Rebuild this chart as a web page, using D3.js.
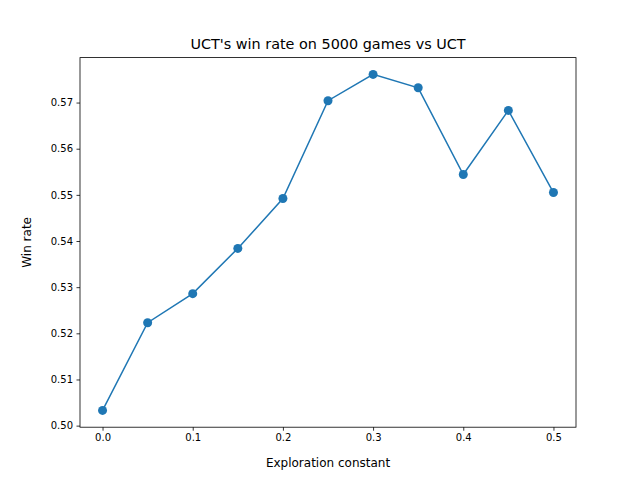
<!DOCTYPE html>
<html><head><meta charset="utf-8">
<script src="https://cdn.jsdelivr.net/npm/d3@7"></script>
<style>body{margin:0;background:#fff}text{font-family:"DejaVu Sans",sans-serif}</style>
</head><body><svg width="640" height="480"></svg>
<script>
var constants = [0.0, 0.05, 0.1, 0.15, 0.2, 0.25, 0.3, 0.35, 0.4, 0.45, 0.5];
var winRates = [0.5033, 0.5223, 0.5286, 0.5384, 0.5492, 0.5704, 0.5761, 0.5732, 0.5544, 0.5683, 0.5505];
var xTicks = [0.0, 0.1, 0.2, 0.3, 0.4, 0.5];
var yTicks = [0.50, 0.51, 0.52, 0.53, 0.54, 0.55, 0.56, 0.57];

var svg = d3.select('svg');
var plotLeft = 80, plotRight = 576, plotTop = 57.6, plotBottom = 427.2;
var color = '#1f77b4';

var ymin = d3.min(winRates), ymax = d3.max(winRates), pad = (ymax - ymin) * 0.05;
var xScale = d3.scaleLinear().domain([-0.025, 0.525]).range([plotLeft, plotRight]);
var yScale = d3.scaleLinear().domain([ymin - pad, ymax + pad]).range([plotBottom, plotTop]);

svg.append('g').attr('transform', 'translate(0,' + plotBottom + ')')
    .call(d3.axisBottom(xScale).tickValues(xTicks).tickFormat(d3.format('.1f')).tickSize(3.5).tickPadding(3.5))
    .call(g => g.select('.domain').remove());
svg.append('g').attr('transform', 'translate(' + plotLeft + ',0)')
    .call(d3.axisLeft(yScale).tickValues(yTicks).tickFormat(d3.format('.2f')).tickSize(3.5).tickPadding(3.5))
    .call(g => g.select('.domain').remove());
svg.selectAll('.tick text').attr('font-size', 10).attr('fill', '#000');
svg.selectAll('.tick line').attr('stroke', '#000').attr('stroke-width', 0.8);

var line = d3.line().x((d, i) => xScale(constants[i])).y(d => yScale(d));
svg.append('path').datum(winRates).attr('d', line)
    .attr('fill', 'none').attr('stroke', color).attr('stroke-width', 1.5);
svg.selectAll('circle').data(winRates).enter().append('circle')
    .attr('cx', (d, i) => xScale(constants[i])).attr('cy', d => yScale(d))
    .attr('r', 4.5).attr('fill', color);

svg.append('rect').attr('x', plotLeft).attr('y', plotTop).attr('width', plotRight - plotLeft).attr('height', plotBottom - plotTop)
    .attr('fill', 'none').attr('stroke', '#000').attr('stroke-width', 0.8);

svg.append('text').attr('x', (plotLeft + plotRight) / 2).attr('y', 49).attr('text-anchor', 'middle')
    .attr('font-size', 14.4).text("UCT's win rate on 5000 games vs UCT");
svg.append('text').attr('x', (plotLeft + plotRight) / 2).attr('y', 467).attr('text-anchor', 'middle')
    .attr('font-size', 12).text('Exploration constant');
svg.append('text').attr('transform', 'translate(31,' + ((plotTop + plotBottom) / 2) + ') rotate(-90)')
    .attr('text-anchor', 'middle').attr('font-size', 12).text('Win rate');
</script></body></html>
